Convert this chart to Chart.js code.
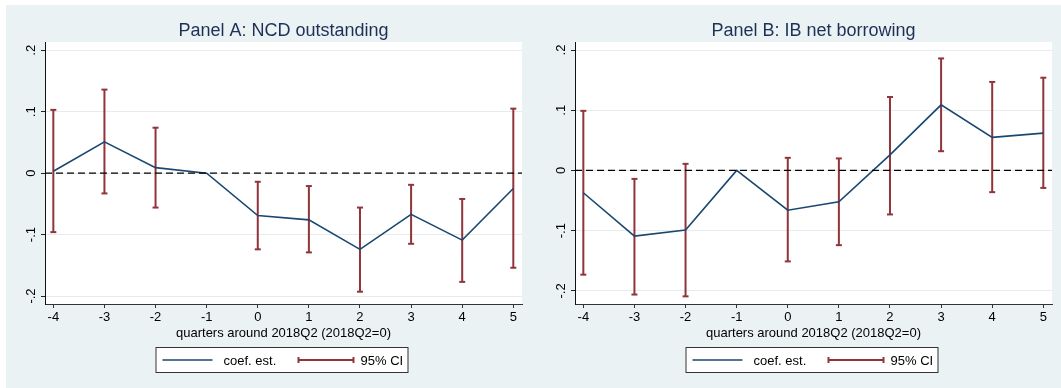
<!DOCTYPE html>
<html>
<head>
<meta charset="utf-8">
<script src="https://cdn.jsdelivr.net/npm/chart.js@4.4.1/dist/chart.umd.min.js"></script>
<style>
  body { margin: 0; background: #fff; width: 1061px; height: 388px; position: relative; overflow: hidden; }
  #bg { position: absolute; left: 6px; top: 5px; width: 1055px; height: 383px; background: #eaf2f3; }
  canvas { position: absolute; top: 0; }
  #chartA { left: 0; }
  #chartB { left: 530px; }
</style>
</head>
<body>
<div id="bg"></div>
<canvas id="chartA" width="530" height="388"></canvas>
<canvas id="chartB" width="531" height="388"></canvas>
<script>
const quarters = [-4, -3, -2, -1, 0, 1, 2, 3, 4, 5];
const yTicks = [-0.2, -0.1, 0, 0.1, 0.2];
const yTickLabels = ['-.2', '-.1', '0', '.1', '.2'];

// Panel A: NCD outstanding (-1 is the omitted quarter, no CI)
const ncdCoef = [0.003, 0.051, 0.009, 0, -0.069, -0.076, -0.124, -0.067, -0.109, -0.025];
const ncdLow  = [-0.096, -0.033, -0.056, null, -0.124, -0.129, -0.193, -0.115, -0.177, -0.154];
const ncdHigh = [0.103, 0.136, 0.074, null, -0.014, -0.021, -0.056, -0.019, -0.042, 0.105];

// Panel B: IB net borrowing
const ibCoef = [-0.037, -0.109, -0.099, 0, -0.066, -0.052, 0.026, 0.109, 0.055, 0.062];
const ibLow  = [-0.173, -0.206, -0.209, null, -0.151, -0.124, -0.073, 0.032, -0.036, -0.029];
const ibHigh = [0.099, -0.014, 0.011, null, 0.021, 0.020, 0.122, 0.186, 0.147, 0.154];

const FONT = '"Liberation Sans", Arial, Helvetica, sans-serif';
const NAVY = '#1a476f';
const MAROON = '#90353b';

const panelDecor = {
  id: 'panelDecor',
  beforeDraw(chart) {
    const a = chart.chartArea, ctx = chart.ctx;
    ctx.save();
    ctx.fillStyle = '#fff';
    ctx.fillRect(a.left, a.top, a.right - a.left, a.bottom - a.top);
    ctx.restore();
  },
  afterDraw(chart, args, opts) {
    const ctx = chart.ctx, a = chart.chartArea, ys = chart.scales.y;
    const cx = (a.left + a.right) / 2;
    ctx.save();
    // title
    ctx.fillStyle = '#1f3057';
    ctx.font = '18px ' + FONT;
    ctx.textAlign = 'center';
    ctx.textBaseline = 'alphabetic';
    ctx.fillText(opts.title, cx, 36);

    // rotated y tick labels
    ctx.fillStyle = '#000';
    ctx.font = '13px ' + FONT;
    yTicks.forEach((v, i) => {
      ctx.save();
      ctx.translate(a.left - 10, ys.getPixelForValue(v));
      ctx.rotate(-Math.PI / 2);
      ctx.fillText(yTickLabels[i], 0, 0);
      ctx.restore();
    });

    // x axis title
    ctx.fillText('quarters around 2018Q2 (2018Q2=0)', cx, 337);

    // legend
    const ds = chart.data.datasets;
    const bx = cx - 128, bw = 252, by = 347, bh = 25, ly = 360;
    ctx.fillStyle = '#fff';
    ctx.fillRect(bx, by, bw, bh);
    ctx.strokeStyle = '#333';
    ctx.lineWidth = 1;
    ctx.strokeRect(bx + 0.5, by + 0.5, bw, bh);

    ctx.strokeStyle = ds[0].borderColor;
    ctx.lineWidth = 1.5;
    ctx.beginPath();
    ctx.moveTo(cx - 121, ly); ctx.lineTo(cx - 71, ly);
    ctx.stroke();

    ctx.strokeStyle = ds[1].borderColor;
    ctx.lineWidth = 2;
    ctx.beginPath();
    ctx.moveTo(cx + 15, ly); ctx.lineTo(cx + 70, ly);
    ctx.moveTo(cx + 15, ly - 3); ctx.lineTo(cx + 15, ly + 3);
    ctx.moveTo(cx + 70, ly - 3); ctx.lineTo(cx + 70, ly + 3);
    ctx.stroke();

    ctx.fillStyle = '#000';
    ctx.textAlign = 'left';
    ctx.fillText(ds[0].label, cx - 60, 365);
    ctx.fillText(ds[1].label, cx + 77, 365);
    ctx.restore();
  }
};

function ciSegments(low, high) {
  const pts = [];
  quarters.forEach((q, i) => {
    if (low[i] === null) return;
    pts.push({x: q, y: low[i]}, {x: q, y: high[i]}, {x: q, y: null});
  });
  return pts;
}

function ciCaps(low, high) {
  const pts = [];
  quarters.forEach((q, i) => {
    if (low[i] === null) return;
    pts.push({x: q, y: low[i]}, {x: q, y: high[i]});
  });
  return pts;
}

function makePanel(id, title, coef, low, high, yMin, yMax) {
  const xMin = -4.163, xMax = 5.17;
  return new Chart(document.getElementById(id), {
    type: 'line',
    data: {
      datasets: [
        {
          label: 'coef. est.',
          data: quarters.map((q, i) => ({x: q, y: coef[i]})),
          borderColor: NAVY,
          borderWidth: 1.6,
          pointRadius: 0,
          tension: 0,
          order: 1
        },
        {
          label: '95% CI',
          data: ciSegments(low, high),
          borderColor: MAROON,
          borderWidth: 2,
          pointRadius: 0,
          spanGaps: false,
          order: 2
        },
        {
          label: 'caps',
          data: ciCaps(low, high),
          showLine: false,
          pointStyle: 'line',
          pointRadius: 3,
          pointBorderWidth: 2,
          pointBorderColor: MAROON,
          borderColor: MAROON,
          order: 2
        },
        {
          label: 'zero',
          data: [{x: xMin, y: 0}, {x: xMax, y: 0}],
          borderColor: '#000',
          borderWidth: 1.3,
          borderDash: [7, 4],
          pointRadius: 0,
          order: 0
        }
      ]
    },
    options: {
      responsive: false,
      animation: false,
      layout: { padding: { top: 42, right: id === 'chartA' ? 8 : 9, left: 0, bottom: 0 } },
      plugins: {
        legend: { display: false },
        tooltip: { enabled: false },
        panelDecor: { title: title }
      },
      scales: {
        x: {
          type: 'linear',
          min: xMin,
          max: xMax,
          afterBuildTicks: s => { s.ticks = quarters.map(v => ({value: v})); },
          afterFit: s => { s.height = 84; },
          ticks: {
            color: '#000',
            font: { family: FONT, size: 13 },
            padding: 2,
            maxRotation: 0,
            callback: v => String(v)
          },
          grid: { drawOnChartArea: false, tickLength: 4, tickColor: '#333', tickWidth: 1 },
          border: { color: '#333', width: 1 }
        },
        y: {
          type: 'linear',
          min: yMin,
          max: yMax,
          afterBuildTicks: s => { s.ticks = yTicks.map(v => ({value: v})); },
          afterFit: s => { s.width = 45; },
          ticks: { color: 'rgba(0,0,0,0)', font: { family: FONT, size: 13 } },
          grid: { color: '#e4eced', lineWidth: 1, tickLength: 4, tickColor: '#222', tickWidth: 1 },
          border: { color: '#111', width: 1 }
        }
      }
    },
    plugins: [panelDecor]
  });
}

makePanel('chartA', 'Panel A: NCD outstanding', ncdCoef, ncdLow, ncdHigh, -0.213, 0.2135);
makePanel('chartB', 'Panel B: IB net borrowing', ibCoef, ibLow, ibHigh, -0.2217, 0.2133);
</script>
</body>
</html>
